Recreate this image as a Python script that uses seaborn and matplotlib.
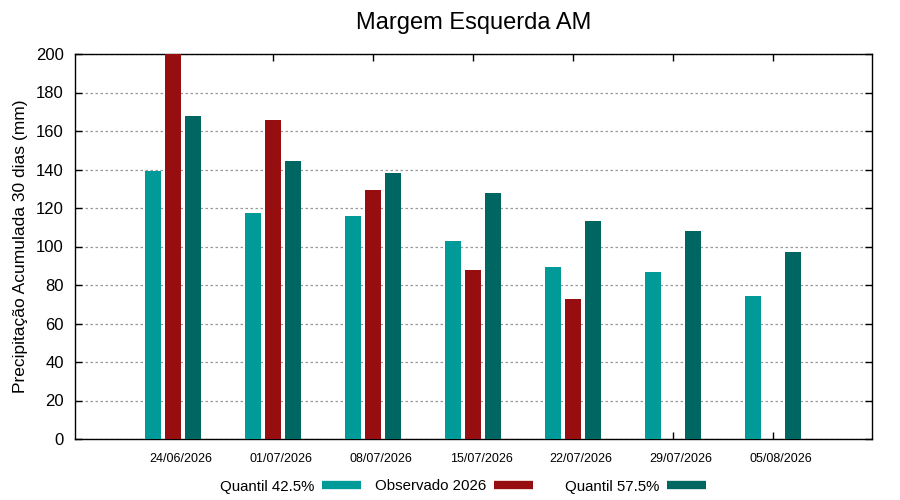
import matplotlib
matplotlib.use("Agg")
import matplotlib.pyplot as plt
import matplotlib.transforms as mtransforms
from matplotlib.lines import Line2D
import seaborn as sns
import pandas as pd
import numpy as np

dates = ["24/06/2026", "01/07/2026", "08/07/2026", "15/07/2026",
         "22/07/2026", "29/07/2026", "05/08/2026"]
q425 = [139.1, 117.2, 116.1, 102.6, 89.1, 86.5, 74.5]
obs2026 = [200.0, 165.6, 129.2, 88.0, 72.9, np.nan, np.nan]
q575 = [167.7, 144.3, 138.0, 127.6, 113.0, 107.8, 97.4]
series_names = ["Quantil 42.5%", "Observado 2026", "Quantil 57.5%"]
colors = ["#009a98", "#960e10", "#006661"]

rows = []
for name, vals in zip(series_names, [q425, obs2026, q575]):
    for d, v in zip(dates, vals):
        rows.append({"data": d, "serie": name, "valor": v})
df = pd.DataFrame(rows)

sns.set_theme(style="white")
plt.rcParams['font.family'] = ['Liberation Sans', 'DejaVu Sans']
plt.rcParams['text.color'] = 'black'
plt.rcParams['axes.labelcolor'] = 'black'
plt.rcParams['xtick.color'] = 'black'
plt.rcParams['ytick.color'] = 'black'

fig = plt.figure(figsize=(9, 5), dpi=100)
ax = fig.add_axes([0.0833, 0.122, 0.8857, 0.770])

sns.barplot(data=df, x="data", y="valor", hue="serie", order=dates,
            hue_order=series_names, palette=colors, errorbar=None,
            width=0.6, gap=0.2, saturation=1, ax=ax, legend=False,
            linewidth=0, zorder=3)

ax.set_xlim(-0.98, 6.99)
ax.set_ylim(0, 200)
ax.set_yticks(np.arange(0, 201, 20))
ax.yaxis.grid(True, linestyle=(0, (2, 2)), color="#999999", linewidth=0.9, zorder=0)
ax.xaxis.grid(False)
ax.set_axisbelow(True)
for s in ax.spines.values():
    s.set_color("black")
    s.set_linewidth(1.0)
ax.tick_params(axis="both", direction="in", top=True, right=True, bottom=True, left=True,
               length=5, width=1, color="black", labelcolor="black")
ax.tick_params(axis="y", labelsize=12, pad=8)
ax.tick_params(axis="x", labelsize=9, pad=10)
offset = mtransforms.ScaledTranslation(8 / 100, 0, fig.dpi_scale_trans)
for lbl in ax.get_xticklabels():
    lbl.set_transform(lbl.get_transform() + offset)
ax.set_xlabel("")
ax.set_ylabel("Precipitação Acumulada 30 dias (mm)", fontsize=12.5, labelpad=6, color="black")
ax.set_title("Margem Esquerda AM", fontsize=17, pad=18, color="black")

legend_x = [220 / 900, 375 / 900, 565 / 900]
for name, c, lx in zip(series_names, colors, legend_x):
    h = Line2D([0], [0], color=c, lw=6, solid_capstyle="butt")
    fig.legend([h], [name], loc="center left", bbox_to_anchor=(lx, 0.027),
               frameon=False, markerfirst=False, fontsize=10.8,
               handlelength=2.6, handletextpad=0.5, borderpad=0, borderaxespad=0)

fig.savefig("out.png", dpi=100)
